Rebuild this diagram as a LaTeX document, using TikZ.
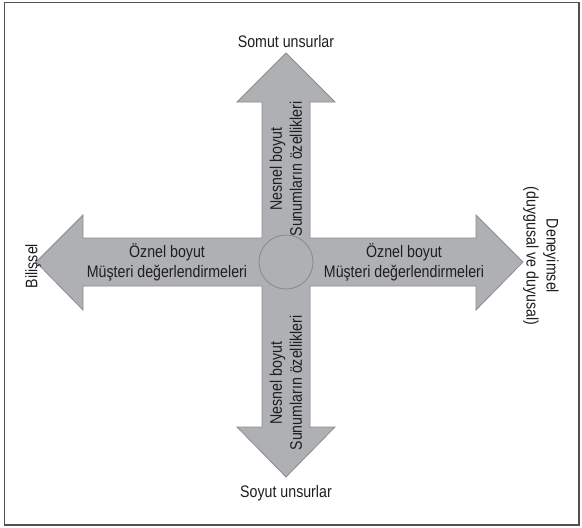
\documentclass[tikz,border=0pt]{standalone}
\usepackage{fontspec}
\setmainfont{Liberation Sans}[FakeStretch=0.85]
\definecolor{arrowfill}{RGB}{175,176,180}
\definecolor{arrowline}{RGB}{140,140,142}
\definecolor{framecol}{RGB}{80,80,80}
\definecolor{txt}{RGB}{30,30,30}
\begin{document}
\begin{tikzpicture}[x=1pt,y=-1pt,
  lbl/.style={text=txt,align=center,inner sep=0pt,font=\fontsize{16.7}{20}\selectfont},
  crossshape/.style={fill=arrowfill,draw=arrowline,line width=0.8pt,line join=miter}]
\useasboundingbox (0,0) rectangle (582,528);
\draw[framecol,line width=1.3pt] (4.5,2.5) rectangle (579,525);
\draw[crossshape] (286,53) -- (335,102) -- (310,102) -- (310,238) -- (476,238) -- (476,215) -- (523,262)
  -- (476,310) -- (476,286) -- (310,286) -- (310,427) -- (335,427) -- (286,477) -- (237,427)
  -- (262,427) -- (262,286) -- (83,286) -- (83,310) -- (36,262) -- (83,215) -- (83,238)
  -- (262,238) -- (262,102) -- (237,102) -- cycle;
\node[circle,minimum size=54pt,inner sep=0pt,fill=arrowfill,draw=arrowline,line width=0.9pt] (hub) at (286,262) {};
\node[lbl] (top) at (286,42) {Somut unsurlar};
\node[lbl] (bottom) at (286,493) {Soyut unsurlar};
\node[lbl,rotate=90] (left) at (33,266) {Bilişsel};
\node[lbl,rotate=-90] (right) at (541,256) {Deneyimsel\\(duygusal ve duyusal)};
\node[lbl] (ltext) at (167,262) {Öznel boyut\\Müşteri değerlendirmeleri};
\node[lbl] (rtext) at (404,262) {Öznel boyut\\Müşteri değerlendirmeleri};
\node[lbl,rotate=90] (ttext) at (286,169) {Nesnel boyut\\Sunumların özellikleri};
\node[lbl,rotate=90] (btext) at (286,383) {Nesnel boyut\\Sunumların özellikleri};
\end{tikzpicture}
\end{document}
